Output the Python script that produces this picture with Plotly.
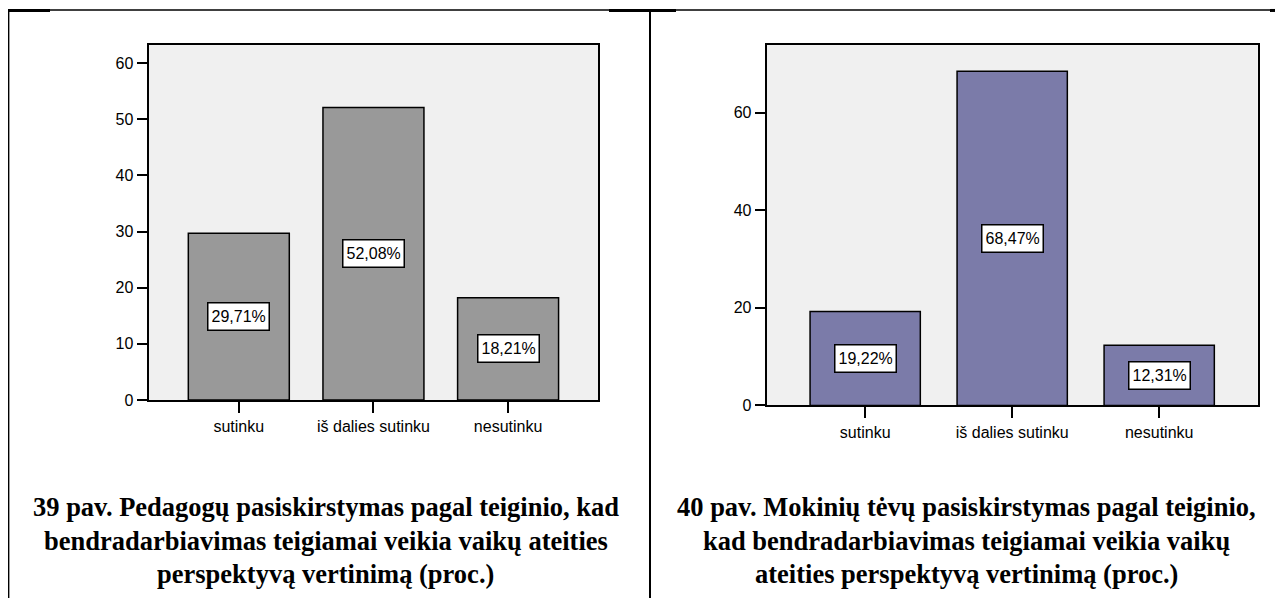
import plotly.graph_objects as go

# page body adds an 8px margin, so the figure is a bit smaller and shifted
OFF = 8
W, H = 1283 - OFF, 607 - OFF

# data
categories = ["sutinku", "iš dalies sutinku", "nesutinku"]
teachers_pct = [29.71, 52.08, 18.21]
parents_pct = [19.22, 68.47, 12.31]
left_ticks = [0, 10, 20, 30, 40, 50, 60]
right_ticks = [0, 20, 40, 60]
left_caption = [
    "39 pav. Pedagogų pasiskirstymas pagal teiginio, kad",
    "bendradarbiavimas teigiamai veikia vaikų ateities",
    "perspektyvą vertinimą (proc.)",
]
right_caption = [
    "40 pav. Mokinių tėvų pasiskirstymas pagal teiginio,",
    "kad bendradarbiavimas teigiamai veikia vaikų",
    "ateities perspektyvą vertinimą (proc.)",
]


def px(x):
    # screen pixel -> paper fraction
    return max(0.0, (x - OFF) / W)


def py(y):
    return 1 - (y - OFF) / H


fig = go.Figure()

fig.add_trace(go.Bar(
    x=categories, y=teachers_pct, width=0.75,
    marker=dict(color="#999999", line=dict(color="black", width=1.5)),
    xaxis="x", yaxis="y", hoverinfo="skip",
))
fig.add_trace(go.Bar(
    x=categories, y=parents_pct, width=0.75,
    marker=dict(color="#7B7BA9", line=dict(color="black", width=1.5)),
    xaxis="x2", yaxis="y2", hoverinfo="skip",
))

tick_font = dict(family="Liberation Sans, Arial", size=16, color="black")
xcommon = dict(
    type="category", range=[-0.67, 2.67], showline=True, mirror=True,
    linecolor="black", linewidth=2, ticks="outside", ticklen=11,
    tickwidth=2, tickcolor="black", tickfont=tick_font, showgrid=False,
    fixedrange=True,
)
ycommon = dict(
    showline=True, mirror=True, linecolor="black", linewidth=2,
    ticks="outside", ticklen=10, tickwidth=2, tickcolor="black",
    tickfont=tick_font, showgrid=False, zeroline=False, fixedrange=True,
)

fig.update_layout(
    width=W, height=H,
    margin=dict(l=0, r=0, t=0, b=0),
    paper_bgcolor="white",
    plot_bgcolor="#F0F0F0",
    showlegend=False,
    xaxis=dict(xcommon, domain=[px(148.6), px(598.3)], anchor="y"),
    yaxis=dict(ycommon, domain=[py(406), py(45.7)], range=[0, 63.2],
               tickvals=left_ticks, anchor="x"),
    xaxis2=dict(xcommon, domain=[px(766.7), px(1257.7)], anchor="y2"),
    yaxis2=dict(ycommon, domain=[py(411.5), py(45.7)], range=[0, 73.8],
                tickvals=right_ticks, anchor="x2"),
)

annotations = []
label_font = dict(family="Liberation Sans, Arial", size=16, color="black")
for xa, ya, vals in [("x", "y", teachers_pct), ("x2", "y2", parents_pct)]:
    for c, v in zip(categories, vals):
        annotations.append(dict(
            xref=xa, yref=ya, x=c, y=v / 2,
            text=f"{v:.2f}%".replace(".", ","),
            showarrow=False, font=label_font, height=20,
            bgcolor="white", bordercolor="black", borderwidth=1.5, borderpad=3,
        ))

cap_font = dict(family="Liberation Serif, Times New Roman", size=26.5, color="black")
line_y = [515, 549, 583]
for cx, lines in [(325.5, left_caption), (966, right_caption)]:
    for ly, txt in zip(line_y, lines):
        annotations.append(dict(
            xref="paper", yref="paper", x=px(cx), y=py(ly),
            text=f"<b>{txt}</b>", showarrow=False, font=cap_font,
            xanchor="center", yanchor="middle",
        ))
fig.update_layout(annotations=annotations)

# table frame
shapes = []
frame = dict(type="line", xref="paper", yref="paper", line=dict(color="black", width=1.5))
shapes.append(dict(frame, x0=0.0005, x1=1, y0=py(10), y1=py(10)))
shapes.append(dict(frame, x0=0.0005, x1=0.0005, y0=0, y1=py(10)))
shapes.append(dict(frame, x0=px(650), x1=px(650), y0=0, y1=py(10), line=dict(color="black", width=2)))
for a, b in [(8, 50), (609, 676), (1270, 1283)]:
    shapes.append(dict(frame, x0=px(a), x1=px(b), y0=py(10.5), y1=py(10.5), line=dict(color="black", width=3)))
fig.update_layout(shapes=shapes)

fig.write_html("out.html", config={"displayModeBar": False})
